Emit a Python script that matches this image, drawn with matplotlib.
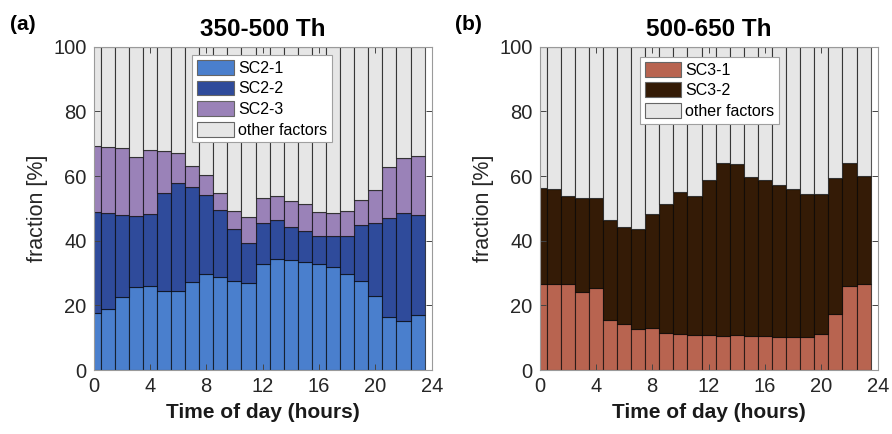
import matplotlib
matplotlib.use("Agg")
import matplotlib.pyplot as plt
import numpy as np

plt.rcParams['font.family'] = ['Liberation Sans', 'DejaVu Sans']

hours = list(range(24))

# Panel (a) 350-500 Th : stacked fractions [%]
sc2_1 = [17.5, 18.8, 22.7, 25.7, 26.0, 24.5, 24.5, 27.2, 29.6, 28.9, 27.5, 26.8,
         32.7, 34.3, 34.0, 33.5, 32.7, 32.0, 29.6, 27.6, 22.9, 16.4, 15.3, 16.9]
sc2_2 = [31.3, 29.8, 25.1, 21.8, 22.4, 30.1, 33.2, 29.3, 24.5, 20.6, 16.1, 12.5,
         12.8, 12.0, 10.3, 9.5, 8.6, 9.6, 11.7, 17.1, 22.7, 30.5, 33.4, 31.0]
sc2_3 = [20.5, 20.3, 20.8, 18.5, 19.5, 13.0, 9.3, 6.5, 6.2, 5.3, 5.5, 7.9,
         7.7, 7.5, 7.9, 8.2, 7.7, 7.1, 7.8, 7.9, 10.1, 15.9, 17.0, 18.3]

# Panel (b) 500-650 Th
sc3_1 = [26.5, 26.5, 26.5, 24.0, 25.5, 15.4, 14.1, 12.8, 12.9, 11.3, 11.1, 10.9,
         10.9, 10.5, 10.7, 10.5, 10.5, 10.3, 10.2, 10.2, 11.1, 17.2, 25.9, 26.7]
sc3_2 = [29.7, 29.5, 27.3, 29.3, 27.8, 31.1, 30.2, 30.7, 35.2, 40.0, 44.1, 43.0,
         47.8, 53.6, 53.1, 49.1, 48.2, 46.8, 45.8, 44.3, 43.4, 42.2, 38.2, 33.4]

titles = ["350-500 Th", "500-650 Th"]
panel_letters = ["(a)", "(b)"]
xticks = [0, 4, 8, 12, 16, 20, 24]
yticks = [0, 20, 40, 60, 80, 100]

col_a = ['#4a7fcd', '#2f4b9b', '#9a82b8', '#e6e6e6']
col_b = ['#b86450', '#341b06', '#e6e6e6']
labels_a = ['SC2-1', 'SC2-2', 'SC2-3', 'other factors']
labels_b = ['SC3-1', 'SC3-2', 'other factors']

fig = plt.figure(figsize=(8.92, 4.34), dpi=100)
ax_a = fig.add_axes([93.5/892, 1-370/434, 338.2/892, 323.3/434])
ax_b = fig.add_axes([539.5/892, 1-370/434, 338.2/892, 323.3/434])

def stacked(ax, series, colors, labels):
    x = np.array(hours)
    bottom = np.zeros(len(x))
    series = [np.array(s, dtype=float) for s in series]
    other = 100 - np.sum(series, axis=0)
    series = series + [other]
    handles = []
    for s, c, lab in zip(series, colors, labels):
        h = ax.bar(x, s, width=1.0, bottom=bottom, color=c,
                   edgecolor=(0, 0, 0, 0.65), linewidth=0.8, label=lab)
        bottom = bottom + s
        handles.append(h)
    return handles

stacked(ax_a, [sc2_1, sc2_2, sc2_3], col_a, labels_a)
stacked(ax_b, [sc3_1, sc3_2], col_b, labels_b)

for ax, ttl, letter, lx in zip([ax_a, ax_b], titles, panel_letters, [10, 455]):
    ax.set_xlim(0, 24)
    ax.set_ylim(0, 100)
    ax.set_xticks(xticks)
    ax.set_yticks(yticks)
    ax.tick_params(direction='in', top=True, right=True, length=4, width=0.7,
                   color='#444444', labelsize=14.5, labelcolor='#262626', pad=5)
    for sp in ax.spines.values():
        sp.set_color('#9a9a9a')
        sp.set_linewidth(0.8)
    ax.set_xlabel('Time of day (hours)', fontsize=15, fontweight='bold', color='#1a1a1a')
    ax.xaxis.set_label_coords(0.5, -0.102)
    ax.set_ylabel('fraction [%]', fontsize=15.5, color='#262626')
    ax.yaxis.set_label_coords(-0.135, 0.5)
    ax.set_title(ttl, fontsize=17.5, fontweight='bold', pad=8)
    fig.text(lx/892, 1-25/434, letter, fontsize=15, fontweight='bold',
             ha='left', va='center')

leg_kw = dict(loc='upper left', fontsize=11.5, frameon=True, fancybox=False,
              edgecolor='#a0a0a0', framealpha=1, handlelength=2.3,
              handleheight=1.05, labelspacing=0.3, handletextpad=0.25,
              borderpad=0.3, borderaxespad=0)
la = ax_a.legend(bbox_to_anchor=(0.292, 0.974), **leg_kw)
lb = ax_b.legend(bbox_to_anchor=(0.297, 0.968), **leg_kw)
for lg in (la, lb):
    lg.get_frame().set_linewidth(0.8)
    for p in lg.get_patches():
        p.set_edgecolor('#666666')

fig.savefig('out.png', dpi=100)
